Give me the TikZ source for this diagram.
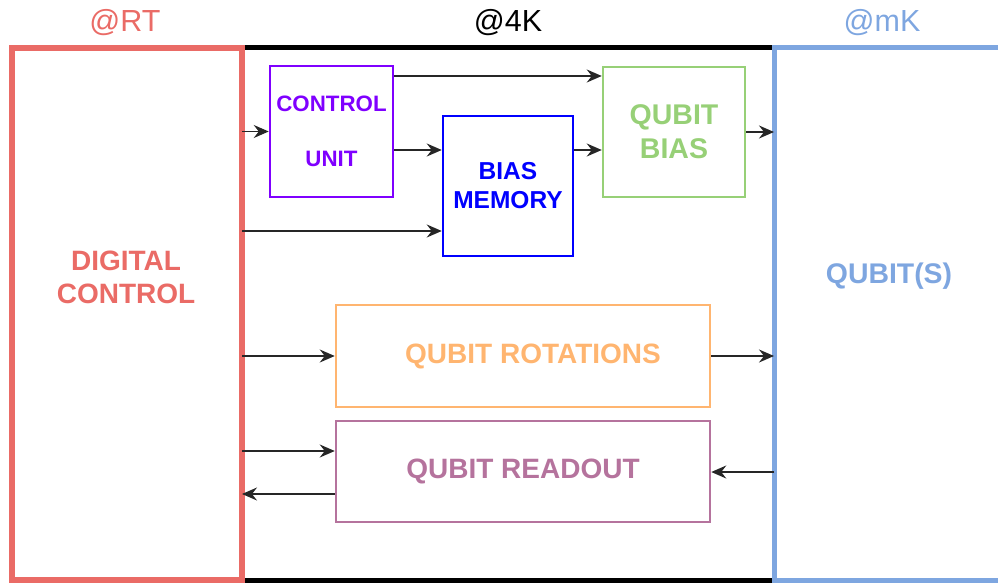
\documentclass[tikz,border=0pt]{standalone}
\usepackage{fontspec}
\setmainfont{Liberation Sans}
\usetikzlibrary{arrows.meta}

\definecolor{rtred}{HTML}{EA6B66}
\definecolor{mkblue}{HTML}{7EA6E0}
\definecolor{cupurple}{HTML}{7F00FF}
\definecolor{memblue}{HTML}{0000FF}
\definecolor{biasgreen}{HTML}{97D077}
\definecolor{rotorange}{HTML}{FFB570}
\definecolor{readmauve}{HTML}{B5739D}

\begin{document}
\begin{tikzpicture}[x=1pt,y=1pt,yscale=-1,
    frame/.style={draw, rectangle, outer sep=0pt, inner sep=0pt, minimum width=230, minimum height=532},
    block/.style={draw, rectangle, line width=2.5pt, inner sep=0pt, align=center},
    arr/.style={line width=1.4pt, draw=black!85, -{Stealth[length=15pt,width=13pt,inset=5pt]}},
    rail/.style={line width=5pt, shorten <=3pt, shorten >=2.5pt},
    temp/.style={font=\fontsize{30.5}{36}\selectfont}]
        \useasboundingbox (0,0) rectangle (998,583);

        % room temperature and mK stages
        \node[frame, draw=rtred, line width=6pt] (rt) at (127,314) {};
        \node[frame, draw=mkblue, line width=5pt] (qs) at (889,314) {};
        % 4K stage rails
        \draw[rail] (rt.north east) -- (qs.north west);
        \draw[rail] (rt.south east) -- (qs.south west);

        % Stage labels
        \node[temp, text=rtred] (rtlabel) at (125,23) {@RT};
        \node[temp] (klabel) at (508,23) {@4K};
        \node[temp, text=mkblue] (mklabel) at (882,23) {@mK};
        \node[text=rtred, align=center, font=\bfseries\fontsize{28}{33}\selectfont] (dctext) at (126,277) {DIGITAL\\CONTROL};
        \node[text=mkblue, font=\bfseries\fontsize{28.4}{34}\selectfont] (qstext) at (889,276) {QUBIT(S)};

        % 4K blocks
        \node[block, draw=cupurple, text=cupurple, minimum width=123, minimum height=131, font=\bfseries\fontsize{22.3}{55}\selectfont] (cu) at (331.5,131.5) {CONTROL\\UNIT};
        \node[block, draw=memblue, text=memblue, minimum width=130, minimum height=140, font=\bfseries\fontsize{24.5}{29}\selectfont] (bm) at (508,186) {BIAS\\MEMORY};
        \node[block, draw=biasgreen, text=biasgreen, minimum width=142, minimum height=130, font=\bfseries\fontsize{28.5}{34}\selectfont] (qb) at (674,132) {QUBIT\\BIAS};
        \node[block, draw=rotorange, text=rotorange, minimum width=374, minimum height=102, font=\bfseries\fontsize{28}{34}\selectfont] (rot) at (523,356) {\hspace*{20pt}QUBIT ROTATIONS};
        \node[block, draw=readmauve, text=readmauve, minimum width=374, minimum height=101, font=\bfseries\fontsize{28}{34}\selectfont] (ro) at (523,471.5) {QUBIT READOUT};

        % Signal paths
        \draw[arr] (rt.east |- cu) -- (cu);
        \draw[arr] (cu.east |- 0,76) -- (qb.west |- 0,76);
        \draw[arr] (cu.east |- 0,150) -- (bm.west |- 0,150);
        \draw[arr] (rt.east |- 0,231) -- (bm.west |- 0,231);
        \draw[arr] (bm.east |- 0,150) -- (qb.west |- 0,150);
        \draw[arr] (qb) -- (qs.west |- qb);
        \draw[arr] (rt.east |- rot) -- (rot);
        \draw[arr] (rot) -- (qs.west |- rot);
        \draw[arr] (rt.east |- 0,451) -- (ro.west |- 0,451);
        \draw[arr] (ro.west |- 0,494) -- (rt.east |- 0,494);
        \draw[arr] (qs.west |- 0,472) -- (ro.east |- 0,472);
\end{tikzpicture}
\end{document}
